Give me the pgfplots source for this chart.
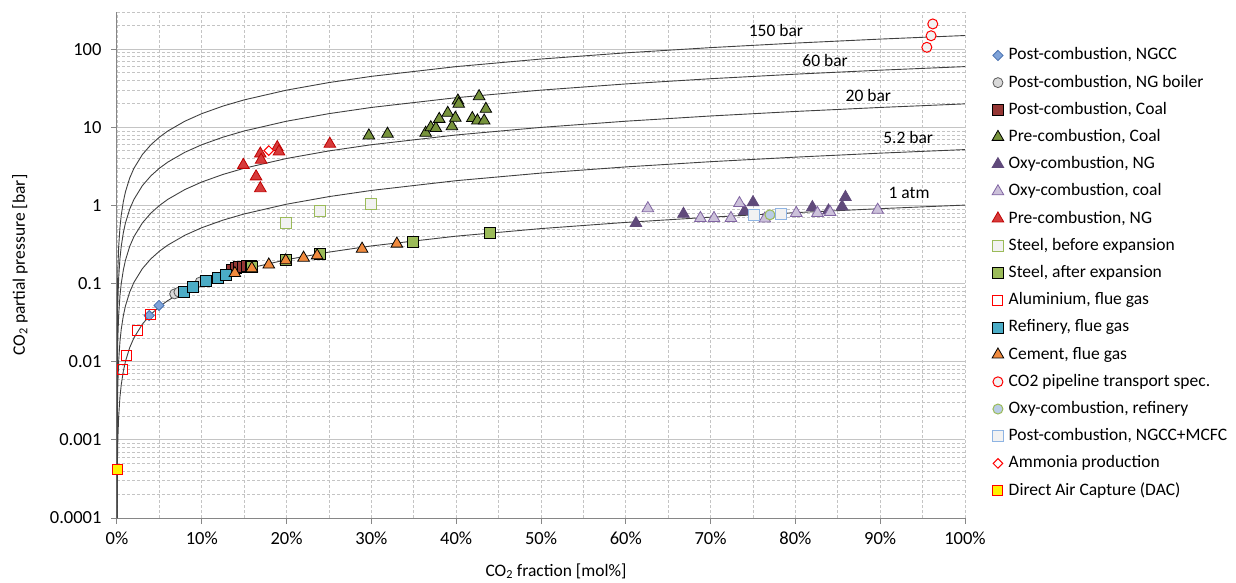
\documentclass[border=0pt]{standalone}
\usepackage{fontspec}
\setmainfont{Carlito}
\usepackage{pgfplots}
\pgfplotsset{compat=1.18}
\newcommand\legsize{\fontsize{17.5bp}{21bp}\selectfont}
\newcommand\ticksize{\fontsize{18.5bp}{22bp}\selectfont}
\definecolor{gridgray}{HTML}{C4C4C4}
\definecolor{axisgray}{HTML}{868686}
\definecolor{curvegray}{HTML}{404040}
\definecolor{ngccfill}{HTML}{7FA3D9}
\definecolor{ngccedge}{HTML}{4A72B0}
\definecolor{boilerfill}{HTML}{D9D9D9}
\definecolor{boileredge}{HTML}{595959}
\definecolor{coalred}{HTML}{953735}
\definecolor{olive}{HTML}{77933C}
\definecolor{oxyng}{HTML}{604A7B}
\definecolor{oxycoalfill}{HTML}{CCC1DA}
\definecolor{oxycoaledge}{HTML}{8064A2}
\definecolor{prengfill}{HTML}{D63A3A}
\definecolor{prengedge}{HTML}{C00000}
\definecolor{steelfill}{HTML}{F2F2F2}
\definecolor{steelgreen}{HTML}{9BBB59}
\definecolor{refinery}{HTML}{4BACC6}
\definecolor{cement}{HTML}{F08A3E}
\definecolor{oxyreffill}{HTML}{B9CDE5}
\definecolor{mcfcedge}{HTML}{8EB4E3}
\pgfplotsset{mk/.style={only marks, legend image code/.code={\draw[mark repeat=1,mark phase=1,##1] plot coordinates {(0bp,0bp)};}}}
\begin{document}
\begin{tikzpicture}
\begin{axis}[
  width=848bp, height=506bp, scale only axis,
  xmin=0, xmax=100, ymin=0.0001, ymax=300,
  ymode=log,
  axis lines=left, axis line style={-, draw=axisgray, line width=1bp},
  xtick={0,10,20,30,40,50,60,70,80,90,100},
  minor xtick={5,15,25,35,45,55,65,75,85,95},
  xticklabels={0\%,10\%,20\%,30\%,40\%,50\%,60\%,70\%,80\%,90\%,100\%},
  ytick={0.0001,0.001,0.01,0.1,1,10,100},
  yticklabels={0.0001,0.001,0.01,0.1,1,10,100},
  minor ytick={0.0002,0.0003,0.0004,0.0005,0.0006,0.0007,0.0008,0.0009,
    0.002,0.003,0.004,0.005,0.006,0.007,0.008,0.009,
    0.02,0.03,0.04,0.05,0.06,0.07,0.08,0.09,
    0.2,0.3,0.4,0.5,0.6,0.7,0.8,0.9,
    2,3,4,5,6,7,8,9,20,30,40,50,60,70,80,90,200,300},
  xmajorgrids, xminorgrids, ymajorgrids, yminorgrids,
  major x grid style={gridgray, line width=0.9bp, dash pattern=on 3bp off 2bp},
  minor x grid style={gridgray, line width=0.9bp, dash pattern=on 3bp off 2bp},
  major y grid style={gridgray, line width=1bp, solid},
  minor y grid style={gridgray, line width=0.9bp, dash pattern=on 3bp off 2bp},
  tick align=outside, major tick length=6bp, minor tick length=0pt,
  tick style={draw=axisgray, line width=1bp},
  xticklabel style={font=\ticksize, yshift=-4bp},
  yticklabel style={font=\ticksize, xshift=-6bp},
  clip mode=individual,
  legend cell align=left,
  legend style={at={(1.032,0.930)}, anchor=north west, draw=none, fill=none,
    font=\legsize, inner sep=0pt, outer sep=0pt, row sep=11.2bp, column sep=5bp,
    nodes={inner sep=0pt, text height=12.5bp, text depth=3.5bp}},
]
\coordinate (bl) at (rel axis cs:0,0);
\coordinate (tr) at (rel axis cs:1,1);
\coordinate (ml) at (rel axis cs:0,0.5);
\coordinate (bm) at (rel axis cs:0.5,0);
% pressure curves
\addplot[forget plot, curvegray, line width=0.9bp] coordinates {
(0.0098,0.0000993)(0.02,0.0002027)(0.05,0.0005066)(0.1,0.001013)(0.2,0.002027)(0.35,0.003546)(0.5,0.005066)(0.75,0.007599)(1,0.01013)(1.5,0.0152)(2,0.02027)(3,0.0304)(4,0.04053)(5,0.05066)(6,0.0608)(8,0.0811)(10,0.1013)(12.5,0.1267)(15,0.152)(20,0.2027)(25,0.2533)(30,0.304)(40,0.4053)(50,0.5066)(60,0.608)(70,0.7093)(80,0.8106)(90,0.912)(100,1.013)};
\addplot[forget plot, curvegray, line width=0.9bp] coordinates {
(0.0019,0.0000988)(0.005,0.00026)(0.01,0.00052)(0.02,0.00104)(0.05,0.0026)(0.1,0.0052)(0.2,0.0104)(0.35,0.0182)(0.5,0.026)(0.75,0.039)(1,0.052)(1.5,0.078)(2,0.104)(3,0.156)(4,0.208)(5,0.26)(6,0.312)(8,0.416)(10,0.52)(12.5,0.65)(15,0.78)(20,1.04)(25,1.3)(30,1.56)(40,2.08)(50,2.6)(60,3.12)(70,3.64)(80,4.16)(90,4.68)(100,5.2)};
\addplot[forget plot, curvegray, line width=0.9bp] coordinates {
(0.0005,0.0001)(0.001,0.0002)(0.002,0.0004)(0.005,0.001)(0.01,0.002)(0.02,0.004)(0.05,0.01)(0.1,0.02)(0.2,0.04)(0.35,0.07)(0.5,0.1)(0.75,0.15)(1,0.2)(1.5,0.3)(2,0.4)(3,0.6)(4,0.8)(5,1)(6,1.2)(8,1.6)(10,2)(12.5,2.5)(15,3)(20,4)(25,5)(30,6)(40,8)(50,10)(60,12)(70,14)(80,16)(90,18)(100,20)};
\addplot[forget plot, curvegray, line width=0.9bp] coordinates {
(0.00017,0.000102)(0.0005,0.0003)(0.001,0.0006)(0.002,0.0012)(0.005,0.003)(0.01,0.006)(0.02,0.012)(0.05,0.03)(0.1,0.06)(0.2,0.12)(0.35,0.21)(0.5,0.3)(0.75,0.45)(1,0.6)(1.5,0.9)(2,1.2)(3,1.8)(4,2.4)(5,3)(6,3.6)(8,4.8)(10,6)(12.5,7.5)(15,9)(20,12)(25,15)(30,18)(40,24)(50,30)(60,36)(70,42)(80,48)(90,54)(100,60)};
\addplot[forget plot, curvegray, line width=0.9bp] coordinates {
(0.000067,0.0001)(0.0002,0.0003)(0.0005,0.00075)(0.001,0.0015)(0.002,0.003)(0.005,0.0075)(0.01,0.015)(0.02,0.03)(0.05,0.075)(0.1,0.15)(0.2,0.3)(0.35,0.525)(0.5,0.75)(0.75,1.125)(1,1.5)(1.5,2.25)(2,3)(3,4.5)(4,6)(5,7.5)(6,9)(8,12)(10,15)(12.5,18.75)(15,22.5)(20,30)(25,37.5)(30,45)(40,60)(50,75)(60,90)(70,105)(80,120)(90,135)(100,150)};
\node[font=\legsize] at (axis cs:77.7,174) {150 bar};
\node[font=\legsize] at (axis cs:83.5,71.9) {60 bar};
\node[font=\legsize] at (axis cs:88.6,25.6) {20 bar};
\node[font=\legsize] at (axis cs:93.3,7.32) {5.2 bar};
\node[font=\legsize] at (axis cs:93.4,1.47) {1 atm};
% data series
\addplot[mk, mark=square*, mark size=3.6bp, mark options={rotate=45, fill=ngccfill, draw=ngccedge, line width=0.8bp}] coordinates {(3.8,0.039)(4.95,0.0526)};
\addlegendentry{Post-combustion, NGCC}
\addplot[mk, mark=*, mark size=5bp, mark options={fill=boilerfill, draw=boileredge, line width=0.8bp}] coordinates {(6.8,0.074)(7.3,0.078)(9.8,0.105)};
\addlegendentry{Post-combustion, NG boiler}
\addplot[mk, mark=square*, mark size=5.5bp, mark options={fill=coalred, draw=black, line width=0.8bp}] coordinates {(13.6,0.15)(14.0,0.158)(14.4,0.162)(14.8,0.165)(15.3,0.17)(15.8,0.168)};
\addlegendentry{Post-combustion, Coal}
\addplot[mk, mark=triangle*, mark size=6.7bp, mark options={fill=olive, draw=black, line width=0.8bp}] coordinates {(29.7,7.86)(31.9,8.26)(36.4,8.5)(37.0,10.0)(37.6,9.8)(38.0,12.8)(39.0,15.3)(39.5,10.3)(39.9,13.2)(40.2,22.0)(40.3,20.0)(41.9,13.1)(42.5,12.2)(42.7,25.0)(43.3,12.2)(43.5,17.2)};
\addlegendentry{Pre-combustion, Coal}
\addplot[mk, mark=triangle*, mark size=6.7bp, mark options={fill=oxyng, draw=oxyng, line width=0.8bp}] coordinates {(61.2,0.594)(66.8,0.78)(74.0,0.85)(75.0,1.10)(82.0,0.95)(83.9,0.86)(85.5,0.97)(85.9,1.28)};
\addlegendentry{Oxy-combustion, NG}
\addplot[mk, mark=triangle*, mark size=6.7bp, mark options={fill=oxycoalfill, draw=oxycoaledge, line width=0.8bp}] coordinates {(62.6,0.92)(68.8,0.69)(70.4,0.69)(72.4,0.69)(73.4,1.07)(76.4,0.68)(80.1,0.80)(82.6,0.80)(84.1,0.82)(89.7,0.88)};
\addlegendentry{Oxy-combustion, coal}
\addplot[mk, mark=triangle*, mark size=6.7bp, mark options={fill=prengfill, draw=prengedge, line width=0.8bp}] coordinates {(14.9,3.3)(16.4,2.35)(16.9,1.66)(16.9,4.6)(17.0,3.84)(18.9,5.57)(19.1,4.9)(25.1,6.15)};
\addlegendentry{Pre-combustion, NG}
\addplot[mk, mark=square*, mark size=5.5bp, mark options={fill=steelfill, draw=steelgreen, line width=1bp}] coordinates {(19.9,0.60)(23.9,0.84)(30.0,1.05)};
\addlegendentry{Steel, before expansion}
\addplot[mk, mark=square*, mark size=5.5bp, mark options={fill=steelgreen, draw=black, line width=0.8bp}] coordinates {(15.9,0.164)(19.9,0.20)(23.9,0.238)(34.9,0.346)(44.0,0.443)};
\addlegendentry{Steel, after expansion}
\addplot[mk, mark=square, mark size=5bp, mark options={draw=red, line width=1bp}] coordinates {(0.67,0.008)(1.14,0.0121)(2.43,0.0252)(3.9,0.040)};
\addlegendentry{Aluminium, flue gas}
\addplot[mk, mark=square*, mark size=5.5bp, mark options={fill=refinery, draw=black, line width=0.8bp}] coordinates {(7.9,0.0795)(9.0,0.090)(10.5,0.107)(11.9,0.119)(12.9,0.130)};
\addlegendentry{Refinery, flue gas}
\addplot[mk, mark=triangle*, mark size=6.7bp, mark options={fill=cement, draw=black, line width=0.8bp}] coordinates {(13.9,0.136)(15.9,0.157)(17.9,0.175)(19.9,0.198)(22.0,0.214)(23.6,0.229)(28.9,0.279)(33.0,0.324)};
\addlegendentry{Cement, flue gas}
\addplot[mk, mark=*, mark size=5bp, mark options={fill=steelfill, draw=red, line width=1bp}] coordinates {(95.5,106)(96.0,149)(96.2,211)};
\addlegendentry{CO2 pipeline transport spec.}
\addplot[mk, mark=*, mark size=5bp, mark options={fill=oxyreffill, draw=steelgreen, line width=1bp}] coordinates {(77.0,0.76)};
\addlegendentry{Oxy-combustion, refinery}
\addplot[mk, mark=square*, mark size=5.5bp, mark options={fill=steelfill, draw=mcfcedge, line width=1bp}] coordinates {(75.1,0.76)(78.3,0.78)};
\addlegendentry{Post-combustion, NGCC+MCFC}
\addplot[mk, mark=square*, mark size=3.4bp, mark options={rotate=45, fill=white, draw=red, line width=1bp}] coordinates {(17.9,5.05)};
\addlegendentry{Ammonia production}
\addplot[mk, mark=square*, mark size=5bp, mark options={fill=yellow, draw=red, line width=1bp}] coordinates {(0.04,0.00042)};
\addlegendentry{Direct Air Capture (DAC)}
\end{axis}
\node[rotate=90, font=\legsize] at ([xshift=-97bp]ml) {CO\textsubscript{2} partial pressure [bar]};
\node[font=\legsize] at ([xshift=15bp,yshift=-53bp]bm) {CO\textsubscript{2} fraction [mol\%]};
\pgfresetboundingbox
\path[use as bounding box] ([shift={(-117bp,-65bp)}]bl) rectangle ([shift={(271bp,12bp)}]tr);
\end{tikzpicture}
\end{document}
